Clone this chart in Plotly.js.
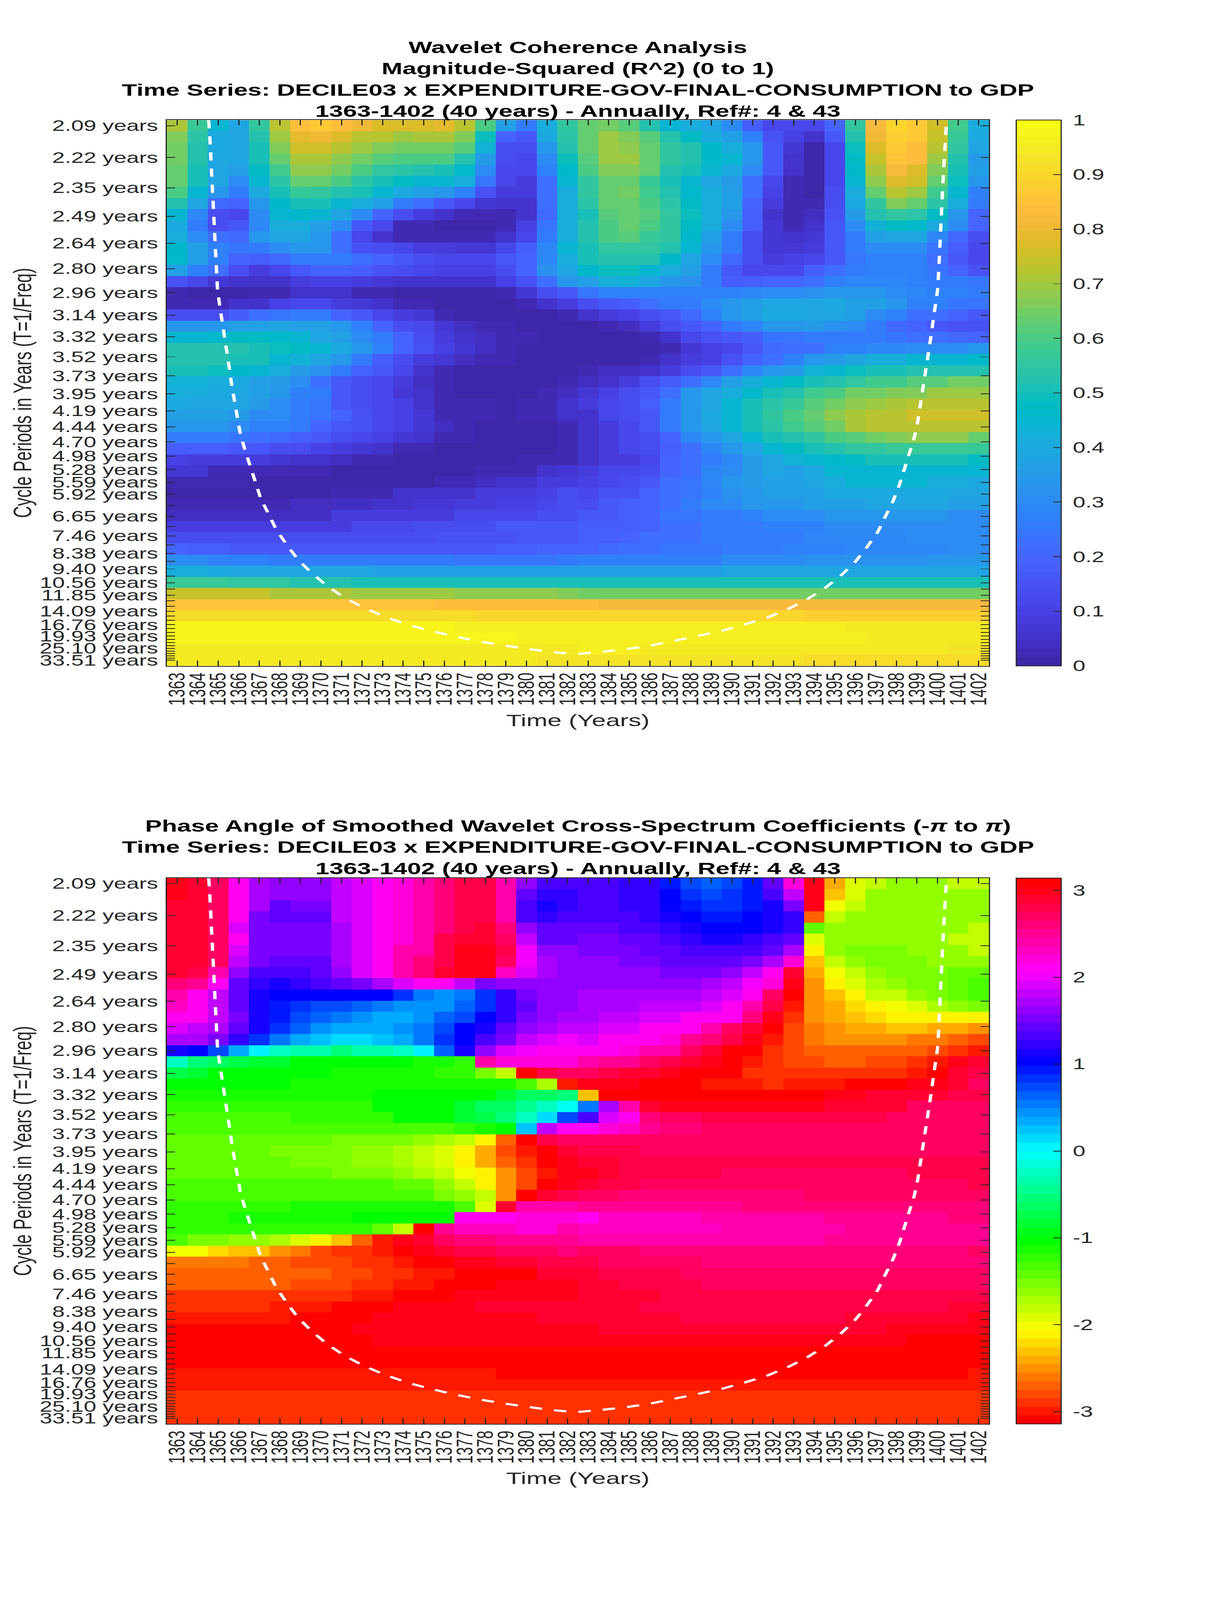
<!DOCTYPE html>
<html><head><meta charset="utf-8"><script src="https://cdn.plot.ly/plotly-3.0.1.min.js"></script>
<style>html,body{margin:0;padding:0;background:#fff;overflow:hidden}#chart{transform-origin:0 0}</style></head><body><div id="chart" style="width:3125px;height:6252px"></div>
<script>
const years=[1363,1364,1365,1366,1367,1368,1369,1370,1371,1372,1373,1374,1375,1376,1377,1378,1379,1380,1381,1382,1383,1384,1385,1386,1387,1388,1389,1390,1391,1392,1393,1394,1395,1396,1397,1398,1399,1400,1401,1402];
const periods=[2.0944,2.2189,2.3509,2.4907,2.6388,2.7957,2.9620,3.1381,3.3247,3.5224,3.7319,3.9538,4.1888,4.4379,4.7018,4.9814,5.2776,5.5914,5.9239,6.2762,6.6494,7.0448,7.4637,7.9075,8.3777,8.8759,9.4037,9.9629,10.556,11.183,11.848,12.552,13.299,14.090,14.928,15.815,16.757,17.752,18.807,19.927,21.110,22.365,23.695,25.104,26.597,28.178,29.854,31.629,33.510];
const periodLabels=["2.09","2.22","2.35","2.49","2.64","2.80","2.96","3.14","3.32","3.52","3.73","3.95","4.19","4.44","4.70","4.98","5.28","5.59","5.92","","6.65","","7.46","","8.38","","9.40","","10.56","","11.85","","","14.09","","","16.76","","","19.93","","","","25.10","","","","","33.51"];
const coiYears=[1364.53,1364.55,1364.60,1364.64,1364.68,1364.72,1364.76,1364.81,1364.85,1364.89,1364.92,1364.96,1365.06,1365.19,1365.31,1365.42,1365.55,1365.66,1365.79,1365.92,1366.08,1366.31,1366.56,1366.80,1367.07,1367.45,1367.83,1368.33,1368.87,1369.54,1370.29,1371.15,1372.09,1373.11,1374.20,1375.31,1376.46,1377.64,1378.81,1380.00,1381.20,1382.30,1382.50,1383.62,1384.81,1386.00,1387.18,1388.34,1389.49,1390.61,1391.70,1392.70,1393.67,1394.55,1395.32,1396.00,1396.56,1397.08,1397.45,1397.83,1398.14,1398.38,1398.62,1398.87,1399.04,1399.17,1399.27,1399.41,1399.53,1399.66,1399.77,1399.90,1400.00,1400.05,1400.08,1400.12,1400.17,1400.21,1400.24,1400.28,1400.32,1400.37,1400.41,1400.44];
const coiFreq=[.4820,.4791,.4649,.4513,.4374,.4238,.4101,.3965,.3826,.3692,.3554,.3417,.3281,.3144,.3006,.2872,.2734,.2598,.2461,.2322,.2188,.2055,.1919,.1786,.1653,.1523,.1391,.1267,.1144,.1030,.0922,.0822,.0738,.0663,.0598,.0546,.0500,.0459,.0425,.0396,.0368,.0352,.0352,.0369,.0391,.0421,.0460,.0503,.0545,.0598,.0655,.0726,.0810,.0907,.1012,.1124,.1245,.1369,.1499,.1629,.1764,.1895,.2030,.2164,.2300,.2436,.2576,.2712,.2850,.2986,.3122,.3259,.3395,.3531,.3668,.3804,.3940,.4079,.4215,.4352,.4490,.4627,.4764,.4820];
const coherence=[
[.71,.57,.45,.39,.55,.73,.84,.86,.83,.81,.77,.77,.77,.79,.73,.60,.36,.26,.42,.56,.64,.65,.61,.53,.45,.41,.38,.30,.18,.11,.11,.11,.20,.55,.82,.90,.87,.75,.59,.42],
[.67,.54,.40,.39,.52,.70,.79,.81,.78,.73,.72,.70,.71,.71,.67,.49,.19,.17,.40,.54,.63,.69,.67,.61,.52,.47,.42,.36,.27,.15,.10,.05,.17,.52,.80,.89,.86,.74,.57,.40],
[.65,.53,.40,.39,.51,.67,.75,.75,.73,.69,.67,.65,.65,.65,.61,.43,.14,.14,.33,.52,.63,.70,.68,.64,.56,.52,.46,.41,.34,.17,.07,.01,.12,.49,.77,.87,.84,.72,.56,.39],
[.65,.52,.39,.38,.50,.63,.71,.71,.68,.65,.62,.60,.60,.60,.53,.35,.13,.12,.30,.49,.61,.69,.69,.64,.56,.52,.46,.44,.34,.17,.05,.01,.12,.47,.74,.85,.83,.69,.53,.35],
[.64,.50,.38,.37,.47,.59,.68,.68,.65,.60,.56,.54,.53,.51,.46,.30,.12,.11,.27,.46,.60,.67,.67,.63,.53,.50,.44,.40,.31,.17,.05,.01,.12,.46,.71,.82,.78,.67,.51,.36],
[.64,.50,.38,.31,.45,.54,.63,.63,.60,.54,.51,.47,.45,.45,.41,.24,.11,.09,.22,.44,.56,.64,.64,.57,.50,.45,.39,.35,.22,.12,.03,.01,.12,.45,.68,.78,.76,.64,.49,.34],
[.60,.45,.33,.25,.40,.51,.57,.56,.53,.50,.44,.40,.36,.34,.27,.15,.08,.08,.22,.41,.55,.64,.65,.58,.53,.46,.41,.37,.23,.10,.03,.01,.14,.42,.64,.73,.69,.58,.44,.28],
[.53,.39,.21,.20,.33,.46,.51,.50,.45,.41,.36,.26,.22,.16,.12,.07,.05,.06,.23,.41,.54,.63,.63,.60,.54,.47,.42,.36,.20,.08,.02,.02,.13,.40,.56,.67,.63,.54,.42,.25],
[.45,.29,.14,.12,.30,.44,.46,.44,.38,.30,.20,.13,.08,.05,.02,.02,.02,.05,.21,.41,.51,.62,.63,.62,.55,.49,.42,.34,.18,.06,.03,.04,.15,.35,.52,.56,.54,.47,.34,.19],
[.40,.26,.13,.17,.29,.41,.42,.37,.30,.17,.11,.03,.02,.01,.01,.01,.03,.10,.24,.41,.52,.60,.63,.60,.55,.47,.41,.31,.18,.07,.03,.06,.17,.30,.43,.47,.46,.40,.30,.19],
[.41,.31,.23,.21,.33,.38,.39,.33,.22,.11,.05,.03,.03,.03,.03,.03,.06,.12,.25,.41,.52,.60,.61,.57,.55,.46,.36,.26,.14,.07,.06,.07,.17,.26,.37,.38,.38,.29,.21,.13],
[.46,.37,.27,.24,.25,.31,.33,.33,.22,.15,.13,.11,.09,.08,.07,.07,.11,.18,.29,.45,.51,.56,.56,.55,.52,.44,.33,.25,.13,.07,.07,.09,.17,.25,.30,.31,.31,.24,.18,.12],
[.46,.36,.28,.19,.18,.21,.25,.26,.26,.23,.20,.16,.14,.12,.12,.12,.16,.20,.29,.42,.50,.53,.53,.53,.46,.39,.31,.21,.13,.09,.10,.12,.17,.24,.27,.28,.28,.23,.16,.12],
[.36,.27,.22,.13,.09,.12,.17,.19,.19,.18,.15,.13,.12,.10,.10,.10,.14,.20,.32,.39,.46,.49,.49,.45,.42,.36,.26,.17,.12,.12,.12,.18,.22,.26,.28,.28,.27,.24,.19,.15],
[.15,.11,.07,.05,.05,.05,.08,.10,.10,.08,.07,.05,.05,.05,.05,.06,.10,.15,.22,.34,.37,.41,.43,.39,.34,.32,.25,.18,.18,.19,.19,.23,.28,.29,.29,.29,.28,.26,.25,.24],
[.03,.01,.01,.01,.02,.03,.06,.06,.06,.03,.02,.01,.00,.00,.00,.01,.03,.07,.13,.17,.24,.27,.28,.28,.28,.27,.27,.28,.29,.30,.31,.32,.33,.34,.33,.31,.29,.28,.27,.26],
[.02,.03,.03,.05,.05,.10,.11,.11,.09,.07,.05,.03,.02,.01,.01,.01,.01,.03,.05,.09,.13,.16,.18,.22,.25,.25,.30,.33,.36,.39,.39,.39,.40,.37,.36,.33,.28,.27,.24,.24],
[.14,.14,.13,.18,.22,.24,.25,.25,.20,.16,.12,.09,.07,.03,.01,.01,.01,.01,.01,.03,.06,.08,.10,.14,.17,.21,.27,.33,.36,.40,.40,.39,.39,.36,.30,.27,.22,.22,.19,.16],
[.33,.33,.34,.36,.37,.38,.37,.37,.34,.28,.19,.14,.11,.07,.04,.02,.02,.01,.00,.00,.00,.02,.04,.08,.13,.16,.20,.26,.29,.34,.34,.35,.32,.30,.25,.21,.19,.17,.15,.15],
[.45,.45,.46,.47,.47,.46,.44,.39,.37,.31,.26,.20,.14,.09,.06,.04,.03,.02,.00,.00,.00,.00,.01,.02,.05,.11,.15,.17,.18,.24,.24,.25,.25,.25,.25,.24,.23,.23,.21,.20],
[.52,.52,.52,.52,.51,.49,.47,.44,.40,.34,.27,.20,.15,.10,.07,.04,.03,.01,.00,.00,.00,.00,.00,.01,.02,.07,.10,.11,.17,.21,.22,.23,.27,.28,.29,.29,.30,.30,.30,.33],
[.52,.52,.52,.51,.50,.45,.43,.38,.34,.26,.18,.14,.09,.07,.04,.03,.02,.01,.01,.01,.00,.00,.01,.02,.06,.08,.10,.15,.19,.23,.28,.33,.35,.39,.41,.42,.44,.45,.45,.46],
[.50,.50,.49,.46,.45,.41,.35,.32,.26,.20,.16,.12,.06,.02,.01,.00,.00,.00,.00,.00,.03,.04,.04,.06,.08,.14,.16,.23,.29,.33,.35,.43,.45,.49,.50,.51,.52,.53,.53,.53],
[.43,.43,.41,.40,.37,.35,.31,.23,.17,.13,.12,.08,.04,.02,.01,.00,.00,.00,.00,.02,.04,.05,.08,.13,.18,.22,.29,.36,.41,.45,.47,.50,.52,.56,.58,.59,.61,.61,.65,.65],
[.41,.41,.40,.39,.36,.33,.28,.25,.17,.14,.12,.07,.06,.02,.01,.00,.00,.00,.02,.04,.07,.10,.13,.16,.22,.33,.38,.41,.46,.51,.53,.58,.60,.65,.65,.67,.67,.69,.69,.69],
[.40,.39,.39,.38,.35,.31,.26,.24,.17,.14,.12,.10,.05,.03,.02,.02,.00,.02,.02,.05,.08,.11,.14,.18,.26,.33,.39,.45,.50,.54,.57,.62,.65,.68,.70,.71,.72,.72,.72,.72],
[.37,.36,.36,.35,.31,.30,.26,.24,.19,.15,.12,.10,.07,.03,.02,.02,.00,.02,.02,.05,.06,.11,.14,.17,.26,.33,.40,.45,.51,.55,.60,.63,.68,.71,.73,.73,.75,.75,.75,.75],
[.33,.33,.33,.31,.28,.28,.25,.20,.17,.15,.12,.10,.07,.04,.02,.01,.01,.01,.01,.03,.05,.09,.12,.16,.25,.33,.39,.45,.50,.54,.58,.62,.65,.71,.72,.73,.73,.73,.73,.73],
[.26,.25,.25,.24,.22,.21,.18,.16,.13,.11,.10,.07,.05,.03,.02,.00,.00,.00,.01,.02,.05,.08,.12,.14,.20,.29,.34,.38,.45,.50,.52,.56,.60,.62,.65,.66,.68,.68,.68,.64],
[.18,.18,.18,.17,.16,.14,.13,.10,.08,.07,.05,.03,.02,.00,.00,.00,.00,.00,.01,.02,.05,.08,.11,.14,.18,.23,.29,.33,.39,.45,.47,.51,.53,.56,.56,.57,.57,.57,.57,.57],
[.10,.09,.09,.08,.08,.07,.06,.05,.04,.03,.03,.01,.01,.01,.00,.00,.00,.02,.02,.02,.06,.08,.09,.11,.20,.23,.26,.29,.35,.38,.43,.45,.46,.48,.50,.50,.50,.50,.50,.48],
[.07,.07,.03,.03,.03,.03,.02,.02,.00,.00,.00,.00,.00,.00,.00,.02,.02,.03,.06,.07,.09,.11,.12,.14,.20,.23,.29,.30,.35,.38,.37,.40,.44,.45,.45,.45,.45,.45,.45,.45],
[.02,.02,.02,.02,.00,.00,.00,.00,.00,.00,.00,.00,.00,.02,.03,.04,.05,.06,.08,.09,.10,.12,.14,.17,.22,.24,.29,.33,.35,.37,.37,.39,.41,.45,.45,.45,.45,.42,.42,.40],
[.01,.01,.01,.01,.01,.01,.01,.01,.03,.03,.03,.05,.05,.05,.06,.08,.08,.09,.10,.13,.12,.15,.15,.19,.22,.24,.27,.32,.34,.36,.36,.37,.40,.40,.40,.40,.40,.40,.38,.38],
[.02,.02,.02,.02,.02,.02,.04,.04,.04,.04,.05,.05,.07,.07,.09,.09,.10,.10,.12,.13,.13,.16,.18,.20,.23,.25,.30,.31,.33,.34,.34,.36,.36,.37,.38,.38,.38,.38,.36,.36],
[.04,.04,.04,.04,.04,.04,.04,.04,.08,.08,.08,.08,.09,.09,.11,.11,.12,.12,.14,.14,.17,.17,.18,.20,.24,.24,.26,.26,.28,.31,.31,.31,.33,.33,.33,.33,.33,.33,.31,.31],
[.08,.08,.09,.09,.09,.09,.09,.09,.09,.11,.11,.11,.13,.13,.14,.14,.16,.16,.17,.17,.18,.18,.18,.20,.22,.22,.26,.26,.26,.28,.28,.28,.30,.30,.30,.30,.30,.30,.30,.30],
[.13,.13,.13,.14,.14,.14,.14,.14,.14,.14,.14,.14,.14,.15,.15,.15,.15,.16,.16,.17,.18,.18,.20,.22,.22,.22,.25,.25,.26,.26,.26,.29,.29,.29,.29,.29,.30,.30,.30,.30],
[.19,.18,.18,.17,.17,.17,.16,.16,.16,.16,.16,.16,.17,.17,.17,.17,.18,.18,.19,.19,.20,.21,.22,.22,.24,.24,.24,.26,.26,.26,.28,.28,.28,.29,.29,.29,.29,.29,.30,.30],
[.30,.30,.27,.27,.27,.26,.26,.26,.26,.25,.25,.25,.25,.25,.24,.24,.24,.24,.24,.26,.27,.27,.27,.28,.28,.28,.28,.30,.30,.30,.30,.32,.32,.32,.32,.32,.32,.33,.33,.33],
[.41,.41,.40,.39,.39,.39,.39,.38,.38,.38,.37,.37,.37,.37,.37,.37,.37,.37,.37,.37,.37,.37,.37,.37,.37,.37,.37,.38,.38,.38,.38,.38,.38,.38,.39,.39,.39,.39,.39,.39],
[.57,.57,.57,.55,.55,.55,.52,.52,.52,.51,.51,.51,.51,.51,.50,.50,.50,.50,.50,.50,.50,.50,.50,.50,.50,.50,.50,.50,.50,.50,.50,.50,.50,.50,.50,.50,.50,.51,.51,.51],
[.74,.74,.74,.74,.74,.71,.71,.71,.71,.70,.70,.70,.70,.70,.68,.68,.68,.68,.68,.66,.65,.65,.65,.65,.65,.65,.65,.65,.65,.65,.65,.65,.65,.65,.65,.65,.65,.65,.65,.65],
[.85,.85,.85,.85,.85,.85,.85,.85,.85,.85,.85,.85,.85,.84,.84,.84,.84,.84,.84,.84,.84,.82,.82,.82,.82,.82,.82,.82,.82,.82,.82,.82,.82,.82,.82,.82,.82,.82,.82,.82],
[.92,.92,.92,.92,.92,.92,.92,.92,.92,.92,.92,.92,.92,.92,.92,.90,.90,.90,.90,.90,.90,.90,.90,.90,.90,.90,.90,.90,.90,.90,.90,.88,.88,.88,.88,.88,.88,.88,.88,.88],
[.98,.98,.98,.98,.98,.98,.98,.98,.98,.98,.98,.98,.98,.98,.96,.96,.96,.96,.96,.96,.96,.96,.96,.96,.96,.96,.96,.96,.96,.96,.96,.96,.96,.95,.95,.95,.95,.95,.95,.95],
[.98,.98,.98,.98,.98,.98,.98,.98,.98,.98,.98,.98,.98,.98,.98,.98,.98,.96,.96,.96,.96,.96,.96,.96,.96,.96,.96,.96,.96,.96,.96,.96,.96,.96,.95,.95,.95,.95,.95,.95],
[.95,.95,.95,.95,.95,.95,.95,.95,.95,.95,.95,.95,.95,.95,.95,.95,.95,.95,.95,.95,.96,.96,.96,.95,.95,.95,.95,.95,.95,.95,.95,.95,.95,.95,.95,.95,.95,.95,.93,.93],
[.94,.94,.94,.94,.94,.94,.94,.94,.94,.94,.94,.94,.94,.94,.94,.94,.94,.94,.93,.93,.93,.93,.93,.93,.93,.93,.93,.93,.93,.93,.93,.92,.92,.92,.92,.92,.92,.92,.92,.92]
];
const phaseAngle=[
[2.97,2.87,2.70,2.09,1.70,1.62,1.62,1.66,1.83,1.91,2.13,2.2,2.45,2.62,2.76,2.76,2.42,1.58,1.3,1.3,1.33,1.33,1.26,1.2,.97,.76,.67,.76,.97,1.45,2.25,2.97,-2.36,-1.87,-1.77,-1.66,-1.66,-1.66,-1.77,-1.83],
[2.95,2.87,2.70,2.09,1.70,1.62,1.62,1.66,1.83,1.91,2.13,2.2,2.45,2.62,2.76,2.76,2.42,1.4,1.23,1.23,1.33,1.33,1.26,1.2,1.0,.84,.76,.87,.98,1.33,1.85,2.95,-2.27,-1.87,-1.66,-1.66,-1.66,-1.66,-1.66,-1.66],
[2.88,2.85,2.70,2.09,1.72,1.45,1.55,1.53,1.83,1.91,2.13,2.2,2.45,2.62,2.76,2.76,2.42,1.37,1.12,1.2,1.33,1.33,1.26,1.18,1.05,.98,.87,.87,.98,1.14,1.52,2.95,-1.97,-1.8,-1.66,-1.66,-1.66,-1.66,-1.66,-1.66],
[2.88,2.85,2.70,2.09,1.55,1.45,1.45,1.45,1.83,1.91,2.13,2.2,2.45,2.62,2.76,2.76,2.42,1.37,1.18,1.3,1.30,1.30,1.28,1.22,1.1,1.05,.97,.97,1.05,1.14,1.23,-2.69,-1.80,-1.66,-1.66,-1.66,-1.66,-1.66,-1.66,-1.66],
[2.88,2.85,2.70,1.95,1.50,1.48,1.48,1.48,1.75,1.91,2.13,2.2,2.45,2.62,2.76,2.87,2.6,1.64,1.38,1.42,1.4,1.4,1.33,1.33,1.23,1.17,1.05,1.05,1.05,1.14,1.2,-1.44,-1.66,-1.66,-1.66,-1.66,-1.66,-1.66,-1.66,-1.77],
[2.88,2.85,2.70,2.09,1.50,1.48,1.48,1.48,1.75,1.91,2.13,2.2,2.45,2.82,2.87,2.87,2.7,1.83,1.47,1.47,1.5,1.5,1.42,1.42,1.28,1.2,1.12,1.12,1.26,1.35,1.42,-1.92,-1.66,-1.66,-1.66,-1.66,-1.66,-1.66,-1.77,-1.77],
[2.88,2.85,2.70,1.88,1.50,1.48,1.48,1.48,1.75,1.91,2.13,2.37,2.45,2.82,2.97,2.97,2.76,1.97,1.62,1.62,1.53,1.53,1.53,1.42,1.42,1.33,1.33,1.33,1.33,1.42,1.75,-2.09,-1.66,-1.55,-1.55,-1.55,-1.62,-1.62,-1.66,-1.77],
[2.88,2.85,2.70,1.83,1.53,1.40,1.40,1.40,1.72,1.91,2.13,2.37,2.6,2.82,2.97,2.97,2.70,1.97,1.70,1.64,1.6,1.6,1.52,1.52,1.42,1.42,1.42,1.42,1.53,1.75,2.2,-2.27,-1.77,-1.64,-1.55,-1.55,-1.55,-1.62,-1.62,-1.62],
[2.85,2.77,2.37,1.66,1.33,1.33,1.33,1.40,1.64,1.87,2.09,2.37,2.56,2.85,2.97,2.97,2.32,1.89,1.75,1.66,1.62,1.62,1.62,1.62,1.5,1.5,1.5,1.62,1.77,2.09,2.92,-2.36,-1.97,-1.77,-1.66,-1.55,-1.55,-1.55,-1.42,-1.42],
[2.6,2.5,2.1,1.42,1.23,1.14,1.26,1.3,1.42,1.53,1.75,1.87,2.09,2.09,1.85,1.55,1.66,1.66,1.66,1.66,1.64,1.64,1.64,1.64,1.64,1.64,1.75,1.83,2.0,2.25,3.0,-2.46,-2.07,-1.87,-1.75,-1.66,-1.53,-1.53,-1.44,-1.33],
[2.37,2.09,1.83,1.42,1.12,1.05,1.05,1.05,1.05,1.05,1.02,.82,.53,.42,.57,.87,1.23,1.53,1.62,1.62,1.68,1.68,1.68,1.68,1.68,1.68,1.8,1.93,2.09,2.66,3.14,-2.55,-2.27,-2.09,-1.85,-1.77,-1.66,-1.50,-1.38,-1.33],
[2.3,2.09,1.83,1.40,1.12,.98,.84,.76,.7,.6,.53,.42,.42,.42,.6,.87,1.23,1.38,1.62,1.62,1.68,1.68,1.68,1.83,1.83,1.83,1.93,2.09,2.42,2.79,-3.02,-2.55,-2.36,-2.17,-2.07,-1.97,-1.87,-1.70,-1.62,-1.53],
[2.09,2.09,1.83,1.5,1.14,.9,.7,.6,.53,.42,.3,.3,.42,.63,.78,1.05,1.23,1.5,1.64,1.75,1.70,1.83,1.83,1.93,1.93,2.09,2.09,2.12,2.62,2.95,-2.93,-2.55,-2.36,-2.27,-2.17,-2.07,-2.07,-2.07,-2.07,-2.07],
[1.91,1.83,1.75,1.38,1.14,.84,.6,.42,.3,.3,.3,.42,.53,.72,1.02,1.12,1.42,1.62,1.75,1.85,1.83,1.91,1.91,2.09,2.09,2.09,2.37,2.66,2.9,3.14,-2.83,-2.64,-2.46,-2.36,-2.36,-2.27,-2.27,-2.36,-2.36,-2.5],
[1.75,1.75,1.52,1.23,.87,.55,.3,.2,.1,.1,.2,.32,.53,.8,1.05,1.33,1.53,1.77,1.92,2.0,1.89,2.09,2.09,2.09,2.17,2.53,2.62,2.79,3.0,-3.04,-2.83,-2.64,-2.55,-2.46,-2.46,-2.46,-2.57,-2.64,-2.74,-2.83],
[1.17,1.05,.76,.33,0,-.2,-.33,-.33,-.52,-.33,-.33,-.2,0,.6,1.12,1.66,1.89,2.0,2.09,2.09,2.09,2.09,2.2,2.37,2.45,2.72,2.93,-3.08,3.14,-2.92,-2.83,-2.72,-2.68,-2.68,-2.68,-2.68,-2.74,-2.83,-2.93,-3.04],
[-.26,-.5,-.65,-.76,-.84,-.84,-1.05,-1.05,-1.05,-1.05,-1.05,-1.05,-1.1,-1.1,-1.25,2.45,2.25,2.25,2.25,2.25,2.45,2.5,2.5,2.72,2.82,2.9,3.04,3.14,-3.02,-2.93,-2.78,-2.78,-2.72,-2.72,-2.83,-2.83,-2.93,-3.04,3.0,2.93],
[-.74,-.84,-1.05,-1.05,-1.05,-1.05,-1.05,-1.05,-1.15,-1.15,-1.15,-1.15,-1.15,-1.25,-1.25,-1.5,-1.85,-3.14,2.82,2.66,2.7,2.76,2.9,2.93,3.0,3.05,3.14,-3.07,-2.93,-2.93,-2.93,-2.93,-2.93,-2.93,-2.93,-2.93,-3.04,3.14,2.93,2.76],
[-1.05,-1.05,-1.05,-1.05,-1.05,-1.05,-1.17,-1.17,-1.17,-1.17,-1.17,-1.17,-1.17,-1.17,-1.17,-1.17,-1.17,-1.29,-1.75,-3.02,2.97,2.97,2.97,3.05,3.14,3.14,-3.0,-3.0,-3.0,-2.93,-3.02,-3.02,-3.02,3.14,3.14,3.05,2.95,2.95,2.87,2.72],
[-1.09,-1.09,-1.09,-1.09,-1.17,-1.17,-1.17,-1.17,-1.17,-1.17,-1.05,-1.05,-1.05,-1.05,-1.05,-1.05,-.84,-.68,-.6,-.57,-2.27,-3.08,-3.08,-3.08,-3.14,-3.14,-3.14,-3.14,-3.14,-3.14,-3.14,-3.14,3.0,3.0,2.9,2.9,2.9,2.9,2.76,2.76],
[-1.18,-1.18,-1.18,-1.18,-1.18,-1.18,-1.18,-1.18,-1.18,-1.18,-1.05,-1.05,-1.05,-1.05,-.8,-.68,-.6,-.4,-.26,-.06,.5,1.75,2.45,2.85,2.95,2.97,2.97,2.97,2.97,2.97,2.97,2.97,2.88,2.88,2.88,2.88,2.72,2.72,2.72,2.72],
[-1.29,-1.29,-1.29,-1.29,-1.29,-1.29,-1.18,-1.18,-1.18,-1.18,-1.18,-1.06,-1.06,-1.02,-.8,-.76,-.58,-.26,.1,.76,1.33,1.87,2.09,2.62,2.66,2.7,2.82,2.82,2.82,2.82,2.82,2.82,2.82,2.82,2.82,2.72,2.72,2.72,2.72,2.72],
[-1.31,-1.31,-1.31,-1.31,-1.31,-1.31,-1.29,-1.29,-1.29,-1.29,-1.29,-1.29,-1.29,-1.29,-1.2,-1.08,-1.05,.26,1.83,2.12,2.09,2.18,2.3,2.5,2.62,2.62,2.72,2.72,2.72,2.72,2.72,2.72,2.72,2.72,2.72,2.72,2.72,2.72,2.72,2.72],
[-1.38,-1.38,-1.38,-1.38,-1.38,-1.38,-1.38,-1.38,-1.5,-1.5,-1.5,-1.5,-1.58,-1.72,-1.83,-2.09,-2.69,-3.08,2.82,2.72,2.66,2.66,2.66,2.66,2.70,2.70,2.70,2.70,2.70,2.70,2.70,2.70,2.70,2.70,2.70,2.70,2.70,2.70,2.74,2.74],
[-1.40,-1.40,-1.40,-1.40,-1.40,-1.53,-1.53,-1.53,-1.53,-1.62,-1.62,-1.75,-1.80,-1.92,-2.09,-2.38,-2.78,-3.04,3.05,2.87,2.80,2.80,2.80,2.70,2.70,2.70,2.70,2.70,2.70,2.70,2.70,2.70,2.70,2.70,2.72,2.72,2.72,2.72,2.72,2.72],
[-1.38,-1.38,-1.38,-1.38,-1.38,-1.38,-1.53,-1.53,-1.53,-1.62,-1.62,-1.7,-1.8,-1.92,-2.09,-2.36,-2.69,-2.92,-3.14,2.97,2.87,2.87,2.75,2.75,2.75,2.75,2.75,2.75,2.75,2.75,2.75,2.75,2.75,2.75,2.75,2.75,2.75,2.75,2.75,2.75],
[-1.38,-1.38,-1.38,-1.38,-1.38,-1.38,-1.38,-1.38,-1.5,-1.5,-1.5,-1.6,-1.68,-1.83,-1.98,-2.15,-2.46,-2.81,-3.0,3.04,2.95,2.88,2.76,2.76,2.76,2.76,2.76,2.70,2.70,2.70,2.70,2.70,2.70,2.70,2.70,2.70,2.76,2.76,2.76,2.76],
[-1.28,-1.36,-1.36,-1.36,-1.36,-1.36,-1.36,-1.36,-1.36,-1.36,-1.36,-1.42,-1.42,-1.6,-1.77,-2.09,-2.46,-2.83,-3.14,2.97,2.90,2.84,2.84,2.70,2.70,2.70,2.70,2.70,2.70,2.70,2.70,2.70,2.70,2.70,2.70,2.70,2.70,2.70,2.70,2.82],
[-1.28,-1.28,-1.28,-1.28,-1.28,-1.28,-1.28,-1.28,-1.28,-1.28,-1.28,-1.28,-1.36,-1.5,-1.58,-1.85,-2.46,-3.14,2.85,2.76,2.74,2.74,2.6,2.6,2.6,2.6,2.6,2.6,2.6,2.6,2.6,2.66,2.66,2.66,2.66,2.66,2.66,2.66,2.66,2.66],
[-1.24,-1.24,-1.24,-1.24,-1.24,-1.24,-1.14,-1.14,-1.14,-1.14,-1.14,-1.14,-1.14,-1.14,-1.32,-1.95,2.85,2.45,2.42,2.42,2.5,2.5,2.5,2.5,2.5,2.5,2.5,2.5,2.56,2.56,2.56,2.56,2.56,2.56,2.56,2.56,2.62,2.62,2.62,2.62],
[-1.24,-1.24,-1.24,-1.12,-1.12,-1.12,-1.12,-1.12,-1.12,-1.05,-1.05,-1.05,-1.05,-1.05,2.15,2.09,2.09,2.18,2.18,2.18,2.15,2.32,2.32,2.32,2.32,2.32,2.42,2.42,2.42,2.42,2.42,2.42,2.5,2.5,2.5,2.5,2.5,2.5,2.62,2.62],
[-1.22,-1.22,-1.22,-1.22,-1.22,-1.22,-1.22,-1.22,-1.22,-1.22,-1.38,-1.8,-3.14,2.55,2.3,2.3,2.3,2.18,2.18,2.37,2.32,2.32,2.32,2.32,2.32,2.32,2.32,2.42,2.42,2.42,2.42,2.42,2.42,2.46,2.46,2.46,2.46,2.46,2.46,2.46],
[-1.32,-1.48,-1.48,-1.6,-1.6,-1.7,-1.87,-2.09,-2.27,-2.68,-2.95,3.04,2.85,2.72,2.62,2.56,2.5,2.5,2.46,2.46,2.44,2.44,2.44,2.44,2.44,2.44,2.44,2.44,2.44,2.44,2.44,2.44,2.52,2.52,2.52,2.52,2.52,2.52,2.52,2.52],
[-2.05,-2.05,-2.18,-2.27,-2.35,-2.46,-2.57,-2.78,-2.85,-2.93,-3.04,3.14,2.97,2.85,2.76,2.76,2.72,2.72,2.72,2.6,2.66,2.66,2.66,2.58,2.58,2.58,2.58,2.58,2.58,2.58,2.58,2.58,2.58,2.58,2.58,2.58,2.58,2.58,2.58,2.68],
[-2.57,-2.57,-2.57,-2.57,-2.68,-2.68,-2.78,-2.8,-2.8,-2.92,-2.92,-3.04,-3.14,-3.14,3.04,3.04,2.93,2.93,2.82,2.82,2.82,2.74,2.74,2.74,2.74,2.74,2.64,2.64,2.64,2.64,2.64,2.64,2.64,2.64,2.64,2.64,2.64,2.64,2.64,2.64],
[-2.68,-2.68,-2.68,-2.68,-2.68,-2.72,-2.72,-2.72,-2.78,-2.78,-2.92,-2.92,-3.0,-3.0,3.14,3.14,3.05,3.05,2.93,2.93,2.88,2.78,2.78,2.78,2.78,2.72,2.72,2.72,2.72,2.72,2.72,2.68,2.68,2.68,2.68,2.68,2.68,2.68,2.74,2.74],
[-2.72,-2.72,-2.72,-2.72,-2.72,-2.72,-2.8,-2.8,-2.8,-2.9,-2.9,-3.02,-3.02,3.14,3.14,3.14,3.04,3.04,3.04,3.04,2.92,2.92,2.80,2.80,2.80,2.80,2.74,2.74,2.74,2.74,2.74,2.74,2.74,2.74,2.74,2.74,2.74,2.74,2.74,2.74],
[-2.85,-2.85,-2.85,-2.85,-2.85,-2.93,-2.93,-2.93,-2.93,-3.02,-3.02,3.14,3.14,3.14,3.04,3.04,3.04,2.95,2.95,2.95,2.86,2.86,2.86,2.86,2.75,2.75,2.75,2.75,2.75,2.75,2.75,2.75,2.75,2.75,2.75,2.75,2.75,2.75,2.75,2.75],
[-2.93,-2.93,-2.93,-2.93,-2.93,-3.02,-3.02,-3.02,3.14,3.14,3.14,3.02,3.02,3.02,3.02,2.93,2.93,2.93,2.9,2.9,2.88,2.88,2.88,2.77,2.77,2.77,2.77,2.77,2.77,2.77,2.77,2.77,2.77,2.77,2.77,2.77,2.77,2.77,2.85,2.85],
[-3.04,-3.04,-3.04,-3.04,-3.04,-3.04,3.14,3.14,3.14,3.14,3.02,3.02,3.02,2.95,2.95,2.95,2.95,2.95,2.9,2.9,2.92,2.92,2.92,2.92,2.92,2.82,2.82,2.82,2.82,2.82,2.82,2.82,2.82,2.90,2.90,2.90,2.90,2.90,2.90,2.98],
[-3.07,-3.07,-3.07,3.14,3.14,3.14,3.14,3.14,3.14,3.04,3.04,3.04,3.04,3.04,2.95,2.95,2.95,2.95,2.95,2.95,3.0,2.88,2.88,2.88,2.88,2.88,2.88,2.88,2.88,2.88,2.88,2.88,2.88,2.88,2.88,2.96,2.96,2.96,2.96,2.96],
[-3.07,-3.07,3.14,3.14,3.14,3.14,3.14,3.14,3.14,3.14,3.04,3.04,3.04,3.04,3.04,3.04,3.04,3.04,2.95,2.95,2.97,2.97,2.97,2.97,2.97,2.97,2.97,2.97,2.97,2.97,2.97,2.97,2.97,2.97,2.97,2.97,3.06,3.06,3.06,3.06],
[-3.07,-3.07,-3.07,3.14,3.14,3.14,3.14,3.14,3.14,3.14,3.14,3.14,3.14,3.14,3.08,3.08,3.08,3.08,3.08,3.08,3.10,3.10,3.10,3.10,3.10,3.10,3.10,3.10,3.10,3.10,3.10,3.10,3.10,3.10,3.10,3.10,3.10,3.10,3.10,3.14],
[-3.07,-3.07,-3.07,-3.07,-3.07,-3.13,-3.13,-3.13,-3.13,-3.13,-3.13,-3.13,-3.13,-3.13,-3.13,-3.13,-3.13,-3.13,-3.13,-3.13,-3.13,-3.13,-3.13,-3.13,-3.13,-3.13,-3.13,-3.13,-3.13,-3.13,-3.13,-3.13,-3.13,-3.13,-3.13,-3.13,-3.13,-3.13,-3.13,-3.13],
[-3.04,-3.04,-3.04,-3.04,-3.04,-3.04,-3.04,-3.04,-3.04,-3.04,-3.04,-3.04,-3.04,-3.04,-3.04,-3.04,-3.13,-3.13,-3.13,-3.13,-3.13,-3.13,-3.13,-3.13,-3.13,-3.13,-3.13,-3.13,-3.13,-3.13,-3.13,-3.13,-3.13,-3.13,-3.13,-3.13,-3.13,-3.13,-3.13,-3.04],
[-3.04,-3.04,-3.04,-3.04,-3.04,-3.04,-3.04,-3.04,-3.04,-3.04,-3.04,-3.04,-3.04,-3.04,-3.04,-3.04,-3.04,-3.04,-3.04,-3.04,-3.04,-3.04,-3.04,-3.04,-3.04,-3.04,-3.04,-3.04,-3.04,-3.04,-3.04,-3.04,-3.04,-3.04,-3.04,-3.04,-3.04,-3.04,-3.04,-3.04],
[-2.93,-2.93,-2.93,-2.93,-2.93,-2.93,-2.93,-2.93,-2.93,-2.93,-2.93,-2.93,-2.93,-2.93,-2.93,-2.93,-2.93,-2.93,-2.93,-2.93,-2.93,-2.93,-2.93,-2.93,-2.93,-2.93,-2.93,-2.93,-2.93,-2.93,-2.93,-2.93,-2.93,-2.93,-2.93,-2.93,-2.93,-2.93,-2.93,-2.93],
[-2.93,-2.93,-2.93,-2.93,-2.93,-2.93,-2.93,-2.93,-2.93,-2.93,-2.93,-2.93,-2.93,-2.93,-2.93,-2.93,-2.93,-2.93,-2.93,-2.93,-2.93,-2.93,-2.93,-2.93,-2.93,-2.93,-2.93,-2.93,-2.93,-2.93,-2.93,-2.93,-2.93,-2.93,-2.93,-2.93,-2.93,-2.93,-2.93,-2.93],
[-2.85,-2.85,-2.85,-2.85,-2.85,-2.85,-2.85,-2.85,-2.85,-2.85,-2.85,-2.85,-2.85,-2.85,-2.85,-2.85,-2.85,-2.85,-2.85,-2.85,-2.85,-2.85,-2.85,-2.85,-2.85,-2.85,-2.85,-2.85,-2.85,-2.85,-2.85,-2.85,-2.85,-2.85,-2.85,-2.85,-2.85,-2.85,-2.85,-2.85]
];
const titleTop="Wavelet Coherence Analysis<br>Magnitude-Squared (R^2) (0 to 1)<br>Time Series: DECILE03 x EXPENDITURE-GOV-FINAL-CONSUMPTION to GDP<br>1363-1402 (40 years) - Annually, Ref#: 4 &amp; 43";
const titleBottom="Phase Angle of Smoothed Wavelet Cross-Spectrum Coefficients (-<i>π</i> to <i>π</i>)<br>Time Series: DECILE03 x EXPENDITURE-GOV-FINAL-CONSUMPTION to GDP<br>1363-1402 (40 years) - Annually, Ref#: 4 &amp; 43";
const parula=[[.2422,.1504,.6603],[.2504,.1650,.7076],[.2578,.1818,.7511],[.2647,.1978,.7952],[.2706,.2147,.8364],[.2751,.2342,.8710],[.2783,.2559,.8991],[.2803,.2782,.9221],[.2813,.3006,.9414],[.2810,.3228,.9579],[.2795,.3447,.9717],[.2760,.3667,.9829],[.2699,.3892,.9906],[.2602,.4123,.9952],[.2440,.4358,.9988],[.2206,.4603,.9973],[.1963,.4847,.9892],[.1834,.5074,.9798],[.1786,.5289,.9682],[.1764,.5499,.9520],[.1687,.5703,.9359],[.1540,.5902,.9218],[.1460,.6091,.9079],[.1380,.6276,.8973],[.1248,.6459,.8883],[.1113,.6635,.8763],[.0952,.6798,.8598],[.0689,.6948,.8394],[.0297,.7082,.8163],[.0036,.7203,.7917],[.0067,.7312,.7660],[.0433,.7411,.7394],[.0964,.7500,.7120],[.1408,.7584,.6842],[.1717,.7670,.6554],[.1938,.7758,.6251],[.2161,.7843,.5923],[.2470,.7918,.5567],[.2906,.7973,.5188],[.3406,.8008,.4789],[.3909,.8029,.4354],[.4456,.8024,.3909],[.5044,.7993,.3480],[.5616,.7942,.3045],[.6174,.7876,.2612],[.6720,.7793,.2227],[.7242,.7698,.1910],[.7738,.7598,.1646],[.8203,.7498,.1535],[.8634,.7406,.1596],[.9035,.7330,.1774],[.9393,.7288,.2100],[.9728,.7298,.2394],[.9956,.7434,.2371],[.9970,.7659,.2199],[.9952,.7893,.2028],[.9892,.8136,.1885],[.9786,.8386,.1766],[.9676,.8639,.1643],[.9610,.8890,.1537],[.9597,.9135,.1423],[.9628,.9373,.1265],[.9691,.9606,.1064],[.9769,.9839,.0805]];
function stepped(cols){const s=[];cols.forEach((c,i)=>{s.push([i/cols.length,c]);s.push([(i+1)/cols.length,c]);});return s;}
const parulaScale=stepped(parula.map(c=>`rgb(${c.map(v=>Math.round(v*255)).join(",")})`));
const hsvColors=[];for(let i=0;i<64;i++){hsvColors.push(`hsl(${360*i/63},100%,50%)`);}
const hsvScale=stepped(hsvColors);
const W=3125,H=6252,L=427,R=2531;
const plots=[{top:469,bot:2602},{top:3431,bot:5564}];
const fTop=1/periods[0],fBot=1/periods[48],dF=(fBot-fTop)/48;
const rowFreq=periods.map((p,i)=>fTop+i*dF);
const font="Liberation Sans, Arial, sans-serif",ink="#262626",tickSize=58,labelSize=65,titleSize=64;
function xAxis(anchor){return{domain:[L/W,R/W],anchor,range:[1362.5,1402.5],tickmode:"array",tickvals:years,ticktext:years.map(String),tickangle:-90,ticks:"inside",ticklen:21,tickwidth:3,tickcolor:ink,linecolor:ink,linewidth:3,mirror:"ticks",showgrid:false,zeroline:false,tickfont:{family:font,size:tickSize,color:ink},title:{text:"Time (Years)",font:{family:font,size:labelSize,color:ink},standoff:36}};}
function yAxis(anchor,p){return{domain:[1-p.bot/H,1-p.top/H],anchor,range:[fBot+dF/2,fTop-dF/2],tickmode:"array",tickvals:periods.map(t=>1/t),ticktext:periodLabels.map(s=>s?s+" years":""),ticks:"inside",ticklen:21,tickwidth:3,tickcolor:ink,linecolor:ink,linewidth:3,mirror:"ticks",showgrid:false,zeroline:false,ticklabelstandoff:8,tickfont:{family:font,size:tickSize,color:ink},title:{text:"Cycle Periods in Years (T=1/Freq)",font:{family:font,size:labelSize,color:ink},standoff:0}};}
function cbar(p,vals){return{x:2601/W,xanchor:"left",xpad:0,ypad:0,y:1-(p.top+p.bot)/2/H,yanchor:"middle",lenmode:"pixels",len:p.bot-p.top,thicknessmode:"pixels",thickness:115,outlinewidth:3,outlinecolor:ink,ticks:"inside",ticklen:21,tickwidth:3,tickcolor:ink,tickmode:"array",tickvals:vals,ticktext:vals.map(v=>"\u00a0"+v),tickfont:{family:font,size:tickSize,color:ink}};}
const coi=(xa,ya)=>({type:"scatter",mode:"lines",x:coiYears,y:coiFreq,xaxis:xa,yaxis:ya,line:{color:"#fff",width:8.5,dash:"32px,31px"},hoverinfo:"skip",showlegend:false});
const traces=[
{type:"heatmap",x:years,y:rowFreq,z:coherence,zmin:0,zmax:1,colorscale:parulaScale,xaxis:"x",yaxis:"y",colorbar:cbar(plots[0],[0,.1,.2,.3,.4,.5,.6,.7,.8,.9,1])},
coi("x","y"),
{type:"heatmap",x:years,y:rowFreq,z:phaseAngle,zmin:-Math.PI,zmax:Math.PI,colorscale:hsvScale,xaxis:"x2",yaxis:"y2",colorbar:cbar(plots[1],[-3,-2,-1,0,1,2,3])},
coi("x2","y2")
];
const layout={width:W,height:H,paper_bgcolor:"#fff",plot_bgcolor:"#fff",margin:{l:0,r:0,t:0,b:0,autoexpand:false},showlegend:false,font:{family:font,color:ink},
title:{text:"<b>"+titleTop+"</b>",font:{family:font,size:titleSize,color:"#000"},x:1479/W,xanchor:"center",xref:"paper",y:1-207/H,yanchor:"top",yref:"container"},
xaxis:xAxis("y"),yaxis:yAxis("x",plots[0]),xaxis2:xAxis("y2"),yaxis2:yAxis("x2",plots[1]),
annotations:[{xref:"paper",yref:"paper",x:1479/W,y:1-3189/H,xanchor:"center",yanchor:"top",showarrow:false,text:"<b>"+titleBottom+"</b>",font:{family:font,size:titleSize,color:"#000"}}]};
// The browser window can be shorter than the 6252 px figure: fit the whole figure into it.
Plotly.newPlot("chart",traces,layout,{displayModeBar:false,responsive:false}).then(()=>{
  const fit=Math.min(1,window.innerHeight/H);
  document.getElementById("chart").style.transform=`scale(1,${fit})`;
});
</script></body></html>
